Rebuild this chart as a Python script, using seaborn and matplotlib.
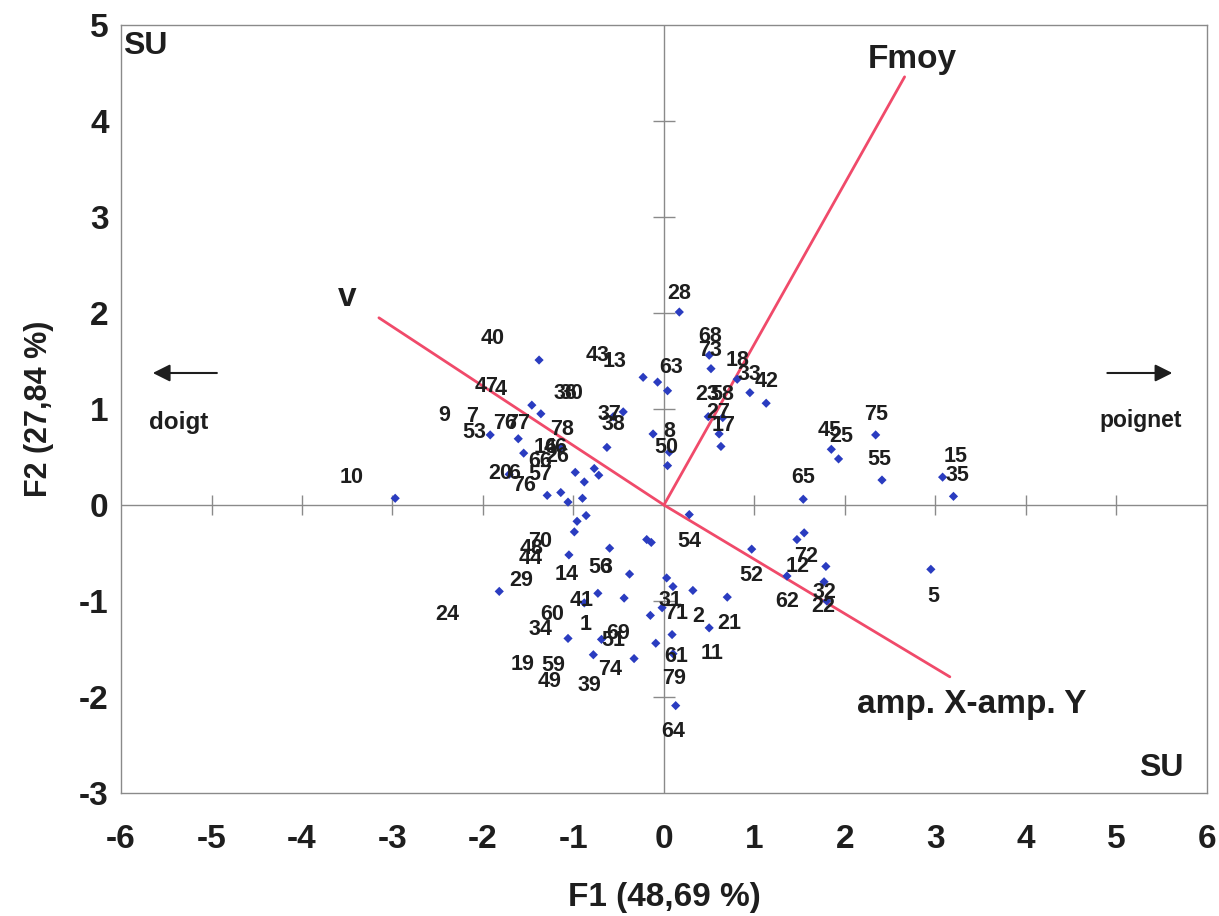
import matplotlib
matplotlib.use("Agg")
import matplotlib.pyplot as plt
import seaborn as sns
import pandas as pd
import numpy as np

# ---------------- data ----------------
pt_x = [-1.38, -0.23, -0.07, 0.04, -1.46, -1.36, -0.45, -0.56, -0.12, -1.92,
        -1.61, -0.63, -1.55, -1.14, 0.04, 0.06, -0.98, -0.88, -0.77, -0.72,
        -1.71, -1.29, -1.14, -1.06, -0.90, -2.97, 0.17, 0.50, 0.52, 0.81,
        0.95, 1.13, 0.49, 0.61, 0.63, 1.85, 1.93, 2.34, 2.41, 3.08,
        3.20, 1.54, -0.96, -0.86, -0.99, -0.19, -0.14, 0.28, -0.60, -1.05,
        -0.38, 0.03, 0.10, 0.32, -1.82, -0.73, -0.88, -0.44, -0.02, -0.15,
        0.09, -1.06, -0.69, -0.09, -0.78, -0.33, 0.10, 0.13, 0.97, 1.55,
        1.47, 1.79, 1.36, 1.77, 1.80, 2.95, 0.70, 0.50, 0.65]
pt_y = [1.51, 1.33, 1.28, 1.19, 1.04, 0.95, 0.97, 0.92, 0.74, 0.73,
        0.69, 0.60, 0.54, 0.60, 0.41, 0.55, 0.34, 0.24, 0.38, 0.31,
        0.32, 0.10, 0.13, 0.03, 0.07, 0.07, 2.01, 1.56, 1.42, 1.31,
        1.17, 1.06, 0.92, 0.74, 0.61, 0.58, 0.48, 0.73, 0.26, 0.29,
        0.09, 0.06, -0.17, -0.11, -0.28, -0.36, -0.39, -0.10, -0.45, -0.52,
        -0.72, -0.76, -0.85, -0.89, -0.90, -0.92, -1.02, -0.97, -1.07, -1.15,
        -1.35, -1.39, -1.40, -1.44, -1.56, -1.60, -1.55, -2.09, -0.46, -0.29,
        -0.36, -0.64, -0.74, -0.80, -1.00, -0.67, -0.96, -1.28, 0.91]

lab_text = ["28", "68", "73", "18", "33", "42", "63", "43", "13", "40",
            "47", "4", "36", "30", "23", "58", "75", "45", "25", "55",
            "15", "35", "65", "27", "17", "8", "50", "37", "38", "78",
            "9", "7", "53", "76", "77", "16", "46", "66", "26", "20",
            "6", "57", "76", "10", "70", "48", "44", "54", "14", "56",
            "3", "29", "24", "41", "31", "71", "2", "60", "1", "34",
            "69", "51", "21", "11", "61", "19", "59", "74", "49", "39",
            "79", "64", "72", "12", "52", "62", "32", "22", "5"]
lab_x = [0.17, 0.51, 0.51, 0.81, 0.95, 1.14, 0.08, -0.73, -0.55, -1.89,
         -1.96, -1.80, -1.09, -1.02, 0.48, 0.64, 2.34, 1.83, 1.96, 2.38,
         3.22, 3.24, 1.54, 0.60, 0.66, 0.06, 0.03, -0.60, -0.56, -1.13,
         -2.43, -2.12, -2.10, -1.76, -1.61, -1.31, -1.20, -1.37, -1.18, -1.81,
         -1.66, -1.37, -1.55, -3.45, -1.37, -1.46, -1.47, 0.28, -1.07, -0.70,
         -0.64, -1.58, -2.39, -0.91, 0.07, 0.13, 0.38, -1.23, -0.87, -1.36,
         -0.51, -0.56, 0.72, 0.53, 0.13, -1.56, -1.22, -0.59, -1.26, -0.82,
         0.11, 0.10, 1.57, 1.48, 0.97, 1.36, 1.77, 1.76, 2.98]
lab_y = [2.20, 1.75, 1.61, 1.51, 1.36, 1.29, 1.43, 1.56, 1.49, 1.73,
         1.23, 1.20, 1.16, 1.16, 1.15, 1.15, 0.94, 0.78, 0.71, 0.47,
         0.51, 0.31, 0.29, 0.96, 0.83, 0.77, 0.60, 0.94, 0.84, 0.79,
         0.93, 0.92, 0.75, 0.85, 0.85, 0.60, 0.60, 0.45, 0.50, 0.33,
         0.33, 0.32, 0.20, 0.29, -0.38, -0.45, -0.56, -0.38, -0.72, -0.65,
         -0.65, -0.79, -1.14, -0.99, -0.99, -1.13, -1.16, -1.14, -1.24, -1.30,
         -1.34, -1.41, -1.23, -1.55, -1.58, -1.66, -1.67, -1.71, -1.84, -1.88,
         -1.81, -2.36, -0.54, -0.64, -0.73, -1.01, -0.91, -1.06, -0.95]

vec_names = ["v", "Fmoy", "amp. X-amp. Y"]
vec_x = [-3.15, 2.66, 3.16]
vec_y = [1.95, 4.46, -1.79]
vec_lab_x = [-3.50, 2.75, 3.40]
vec_lab_y = [2.16, 4.64, -2.08]

x_ticks = list(range(-6, 7))
y_ticks = list(range(-3, 6))
x_label = "F1 (48,69 %)"
y_label = "F2 (27,84 %)"

# ---------------- figure ----------------
sns.set_theme(style="white")
plt.rcParams["font.family"] = ["Liberation Sans", "DejaVu Sans"]

fig = plt.figure(figsize=(12.19, 9.16), dpi=100)
ax = fig.add_axes([0.0993, 0.1343, 0.8907, 0.8384])
ax.set_xlim(-6, 6)
ax.set_ylim(-3, 5)

grey = "#8a8a8a"
ink = "#1e1e1e"
for s in ax.spines.values():
    s.set_color(grey)
    s.set_linewidth(1.0)

# zero lines
ax.axhline(0, color=grey, lw=1.0, zorder=1)
ax.axvline(0, color=grey, lw=1.0, zorder=1)
# cross ticks on zero lines
ix = [t for t in x_ticks if t not in (x_ticks[0], x_ticks[-1], 0)]
iy = [t for t in y_ticks if t not in (y_ticks[0], y_ticks[-1], 0)]
ax.plot(ix, [0] * len(ix), linestyle="none", marker="|", markersize=15,
        markeredgewidth=1.0, color=grey, zorder=1)
ax.plot([0] * len(iy), iy, linestyle="none", marker="_", markersize=16,
        markeredgewidth=1.0, color=grey, zorder=1)

# vectors
for vx, vy in zip(vec_x, vec_y):
    ax.plot([0, vx], [0, vy], color="#f04a6a", lw=2.0, zorder=2,
            solid_capstyle="round")

# points
df = pd.DataFrame({"F1": pt_x, "F2": pt_y})
sns.scatterplot(data=df, x="F1", y="F2", marker="D", s=22, color="#2a3cc0",
                edgecolor="none", ax=ax, zorder=3)

# point labels
for t, lx, ly in zip(lab_text, lab_x, lab_y):
    ax.text(lx, ly, t, ha="center", va="center", fontsize=15.5,
            fontweight="bold", color=ink, zorder=4)

# vector labels
for t, lx, ly in zip(vec_names, vec_lab_x, vec_lab_y):
    ax.text(lx, ly, t, ha="center", va="center", fontsize=24,
            fontweight="bold", color=ink, zorder=4)

# corner texts and direction arrows
ax.text(-5.98, 4.78, "SU", ha="left", va="center", fontsize=23,
        fontweight="bold", color=ink)
ax.text(5.50, -2.74, "SU", ha="center", va="center", fontsize=23,
        fontweight="bold", color=ink)
ax.text(-5.36, 0.86, "doigt", ha="center", va="center", fontsize=17.5,
        fontweight="bold", color=ink)
ax.text(5.27, 0.875, "poignet", ha="center", va="center", fontsize=16.5,
        fontweight="bold", color=ink)
ax.annotate("", xy=(-5.68, 1.375), xytext=(-4.91, 1.375),
            arrowprops=dict(arrowstyle="-|>", color=ink, lw=1.5,
                            mutation_scale=26))
ax.annotate("", xy=(5.65, 1.375), xytext=(4.87, 1.375),
            arrowprops=dict(arrowstyle="-|>", color=ink, lw=1.5,
                            mutation_scale=26))

# ticks
narrow = ["Liberation Sans Narrow", "Liberation Sans", "DejaVu Sans"]
ax.set_xticks(x_ticks)
ax.set_yticks(y_ticks)
ax.set_xticklabels([str(t) for t in x_ticks], family=narrow,
                   fontweight="bold", fontsize=24, color=ink)
ax.set_yticklabels([str(t) for t in y_ticks], family=narrow,
                   fontweight="bold", fontsize=24, color=ink)
ax.tick_params(axis="x", length=0, pad=22)
ax.tick_params(axis="y", length=0, pad=9)
ax.set_xlabel(x_label, family=narrow, fontweight="bold", fontsize=24,
              color=ink, labelpad=20)
ax.set_ylabel(y_label, fontweight="bold", fontsize=22, color=ink,
              labelpad=18)
ax.grid(False)

fig.savefig("out.png", dpi=100, facecolor="white")
